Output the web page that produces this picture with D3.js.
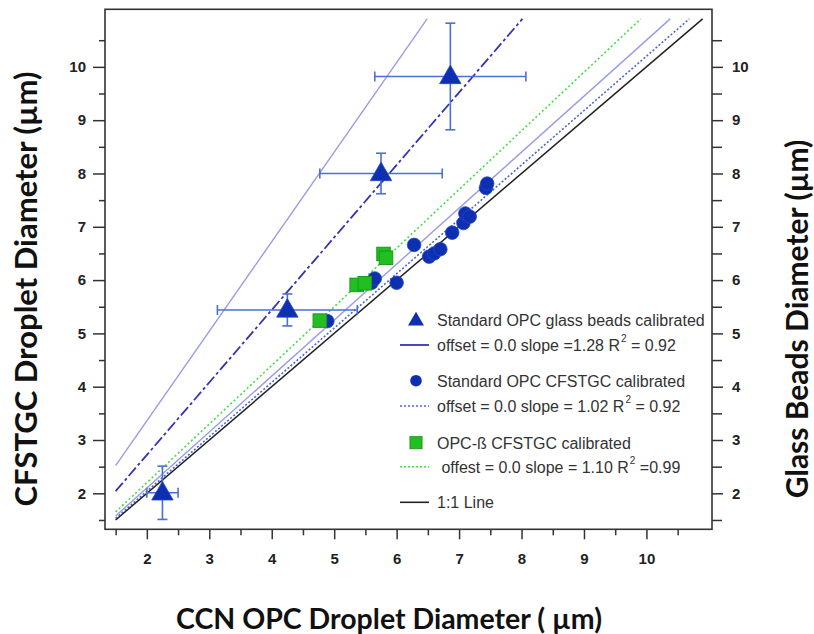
<!DOCTYPE html>
<html><head><meta charset="utf-8">
<script src="https://cdn.jsdelivr.net/npm/d3@7"></script>
<style>
body{margin:0;background:#fff}
svg text{white-space:pre}
</style>
</head><body>
<svg id="c" width="814" height="634"></svg>
<script>
// ---------------- data ----------------
const triangleX    = [2.25, 4.25, 5.75, 6.86];
const triangleY    = [2.01, 5.44, 8.00, 9.82];
const triangleXErr = [0.25, 1.12, 0.98, 1.21];
const triangleYErr = [0.50, 0.30, 0.38, 1.00];

const circleX = [4.89, 5.60, 5.65, 6.00, 6.28, 6.52, 6.60, 6.70, 6.89, 7.07, 7.10, 7.17, 7.43, 7.45];
const circleY = [5.23, 5.95, 6.03, 5.95, 6.66, 6.44, 6.50, 6.58, 6.89, 7.07, 7.25, 7.19, 7.73, 7.81];

const squareX = [4.77, 5.36, 5.49, 5.79, 5.83];
const squareY = [5.24, 5.91, 5.94, 6.49, 6.42];

const lineNames  = ["glassUpper", "glassFit", "glassLower", "cfstgcFit", "opcbFit", "oneToOne"];
const lineSlopes = [1.68, 1.36, 1.05, 1.02, 1.10, 1.00];
const lineXStart = 1.5;
const lineYEnd   = 10.9;

const majorTicks = [2, 3, 4, 5, 6, 7, 8, 9, 10];
const minorTicks = [1.5, 2.5, 3.5, 4.5, 5.5, 6.5, 7.5, 8.5, 9.5, 10.5];

const xTitle = "CCN OPC Droplet Diameter ( µm)";
const yTitle = "CFSTGC Droplet Diameter (µm)";
const y2Title = "Glass Beads Diameter (µm)";

const legendSeries = ["Standard OPC glass beads calibrated", "Standard OPC CFSTGC calibrated", "OPC-ß CFSTGC calibrated"];
const legendFits = [
  ["offset = 0.0 slope =1.28 R", "2", " = 0.92"],
  ["offset = 0.0 slope = 1.02 R", "2", " = 0.92"],
  [" offest = 0.0 slope = 1.10 R", "2", " =0.99"]
];
const legendOneToOne = "1:1 Line";

// ---------------- layout ----------------
const svg = d3.select("#c");
const L = 105, R = 712, T = 9.3, B = 529.3;
const x = d3.scaleLinear().domain([1.33, 11.05]).range([L, R]);
const y = d3.scaleLinear().domain([1.325, 11.08]).range([B, T]);

const tickFont = "bold 15px 'Liberation Sans', Arial, sans-serif";
const frameColor = "#333";

const lineStyles = {
  glassUpper: {stroke: "#9b9be6", width: 1.4, dash: null},
  glassFit:   {stroke: "#3434b4", width: 1.8, dash: "11,3,3,3"},
  glassLower: {stroke: "#9b9be6", width: 1.4, dash: null},
  cfstgcFit:  {stroke: "#4a66d4", width: 1.6, dash: "2,2"},
  opcbFit:    {stroke: "#3ee03e", width: 1.6, dash: "2,2.5"},
  oneToOne:   {stroke: "#222222", width: 1.5, dash: null}
};

const plot = svg.append("g");
plot.append("clipPath").attr("id", "clip").append("rect")
  .attr("x", L).attr("y", T).attr("width", R - L).attr("height", B - T);

const linesG = plot.append("g").attr("clip-path", "url(#clip)");
lineNames.forEach((n, i) => {
  const s = lineSlopes[i];
  const st = lineStyles[n];
  linesG.append("line")
    .attr("x1", x(lineXStart)).attr("y1", y(lineXStart * s))
    .attr("x2", x(lineYEnd / s)).attr("y2", y(lineYEnd))
    .attr("stroke", st.stroke).attr("stroke-width", st.width)
    .attr("stroke-dasharray", st.dash);
});

// error bars
const errColor = "#4a6fd6";
const cap = 5;
const eg = plot.append("g").attr("stroke", errColor).attr("stroke-width", 1.6).attr("fill", "none");
triangleX.forEach((tx, i) => {
  const ty = triangleY[i], ex = triangleXErr[i], ey = triangleYErr[i];
  eg.append("line").attr("x1", x(tx - ex)).attr("x2", x(tx + ex)).attr("y1", y(ty)).attr("y2", y(ty));
  eg.append("line").attr("x1", x(tx - ex)).attr("x2", x(tx - ex)).attr("y1", y(ty) - cap).attr("y2", y(ty) + cap);
  eg.append("line").attr("x1", x(tx + ex)).attr("x2", x(tx + ex)).attr("y1", y(ty) - cap).attr("y2", y(ty) + cap);
  eg.append("line").attr("x1", x(tx)).attr("x2", x(tx)).attr("y1", y(ty - ey)).attr("y2", y(ty + ey));
  eg.append("line").attr("x1", x(tx) - cap).attr("x2", x(tx) + cap).attr("y1", y(ty - ey)).attr("y2", y(ty - ey));
  eg.append("line").attr("x1", x(tx) - cap).attr("x2", x(tx) + cap).attr("y1", y(ty + ey)).attr("y2", y(ty + ey));
});

// circles
const circColor = "#0d2fb2";
plot.append("g").selectAll("circle").data(circleX).join("circle")
  .attr("cx", d => x(d)).attr("cy", (d, i) => y(circleY[i])).attr("r", 6.8)
  .attr("fill", circColor).attr("stroke", "#2448c8").attr("stroke-width", 0.8);

// squares
const sqColor = "#22bf22";
const sq = 13.5;
plot.append("g").selectAll("rect").data(squareX).join("rect")
  .attr("x", d => x(d) - sq / 2).attr("y", (d, i) => y(squareY[i]) - sq / 2)
  .attr("width", sq).attr("height", sq)
  .attr("fill", sqColor).attr("stroke", "#199a19").attr("stroke-width", 1);

// triangles
const triColor = "#0d2fb2";
const triPath = d3.symbol(d3.symbolTriangle, 200);
plot.append("g").selectAll("path").data(triangleX).join("path")
  .attr("d", triPath)
  .attr("transform", (d, i) => `translate(${x(d)},${y(triangleY[i]) + 1})`)
  .attr("fill", triColor).attr("stroke", "#2448c8").attr("stroke-width", 0.8);

// ---------------- axes ----------------
function styleAxis(g) {
  g.select(".domain").remove();
  g.selectAll("line").attr("stroke", frameColor).attr("stroke-width", 1.5);
  g.selectAll("text").style("font", tickFont).attr("fill", "#222");
}
svg.append("g").attr("transform", `translate(0,${B})`)
  .call(d3.axisBottom(x).tickValues(minorTicks).tickSize(6).tickFormat(""))
  .call(styleAxis);
svg.append("g").attr("transform", `translate(0,${B})`)
  .call(d3.axisBottom(x).tickValues(majorTicks).tickSize(10).tickPadding(14).tickFormat(d3.format("d")))
  .call(styleAxis);
svg.append("g").attr("transform", `translate(${L},0)`)
  .call(d3.axisLeft(y).tickValues(minorTicks).tickSize(6).tickFormat(""))
  .call(styleAxis);
svg.append("g").attr("transform", `translate(${L},0)`)
  .call(d3.axisLeft(y).tickValues(majorTicks).tickSize(12).tickPadding(7).tickFormat(d3.format("d")))
  .call(styleAxis);
svg.append("g").attr("transform", `translate(${R},0)`)
  .call(d3.axisRight(y).tickValues(minorTicks).tickSize(10).tickFormat(""))
  .call(styleAxis);
svg.append("g").attr("transform", `translate(${R},0)`)
  .call(d3.axisRight(y).tickValues(majorTicks).tickSize(11).tickPadding(9).tickFormat(d3.format("d")))
  .call(styleAxis);

// frame
svg.append("rect").attr("x", L).attr("y", T).attr("width", R - L).attr("height", B - T)
  .attr("fill", "none").attr("stroke", frameColor).attr("stroke-width", 1.6);

// ---------------- titles ----------------
svg.append("text").attr("x", 389).attr("y", 629).attr("text-anchor", "middle")
  .style("font", "bold 28.5px Lato, 'Open Sans', sans-serif").attr("fill", "#111").text(xTitle);
svg.append("text").attr("transform", "translate(37,289) rotate(-90)").attr("text-anchor", "middle")
  .style("font", "bold 31px Lato, 'Open Sans', sans-serif").attr("fill", "#111").text(yTitle);
svg.append("text").attr("transform", "translate(808,319) rotate(-90)").attr("text-anchor", "middle")
  .style("font", "bold 30px Lato, 'Open Sans', sans-serif").attr("fill", "#111").text(y2Title);

// ---------------- legend ----------------
const lg = svg.append("g");
const legFont = "16px 'Liberation Sans', Arial, sans-serif";
const legColor = "#333";
const symX = 416, txtX = 437, lineX1 = 400, lineX2 = 429;
const rowSeriesY = [320, 380.7, 442.7];
const rowFitY = [345, 406, 466.7];
const oneY = 502.3;

lg.append("path").attr("d", d3.symbol(d3.symbolTriangle, 110))
  .attr("transform", `translate(${symX},${rowSeriesY[0] + 1})`).attr("fill", triColor);
lg.append("circle").attr("cx", symX).attr("cy", rowSeriesY[1]).attr("r", 5.8).attr("fill", circColor);
lg.append("rect").attr("x", symX - 6).attr("y", rowSeriesY[2] - 6).attr("width", 12).attr("height", 12)
  .attr("fill", sqColor).attr("stroke", "#199a19");

legendSeries.forEach((t, i) => {
  lg.append("text").attr("x", txtX).attr("y", rowSeriesY[i] + 5.8)
    .style("font", legFont).attr("fill", legColor).text(t);
});
const fitLegendStyle = [
  {stroke: "#3434b4", dash: null, width: 1.8},
  {stroke: "#4a66d4", dash: "2,2", width: 1.5},
  {stroke: "#3ee03e", dash: "2,2", width: 1.5}
];
legendFits.forEach((parts, i) => {
  const st = fitLegendStyle[i];
  lg.append("line").attr("x1", lineX1).attr("x2", lineX2).attr("y1", rowFitY[i]).attr("y2", rowFitY[i])
    .attr("stroke", st.stroke).attr("stroke-width", st.width).attr("stroke-dasharray", st.dash);
  const t = lg.append("text").attr("x", txtX).attr("y", rowFitY[i] + 5.8)
    .style("font", legFont).attr("fill", legColor);
  t.append("tspan").text(parts[0]);
  t.append("tspan").attr("dy", -9).attr("dx", 1).style("font-size", "10px").text(parts[1]);
  t.append("tspan").attr("dy", 9).text(parts[2]);
});
lg.append("line").attr("x1", lineX1).attr("x2", lineX2).attr("y1", oneY).attr("y2", oneY)
  .attr("stroke", "#222").attr("stroke-width", 1.6);
lg.append("text").attr("x", txtX).attr("y", oneY + 5.8)
  .style("font", legFont).attr("fill", legColor).text(legendOneToOne);
</script>
</body></html>
